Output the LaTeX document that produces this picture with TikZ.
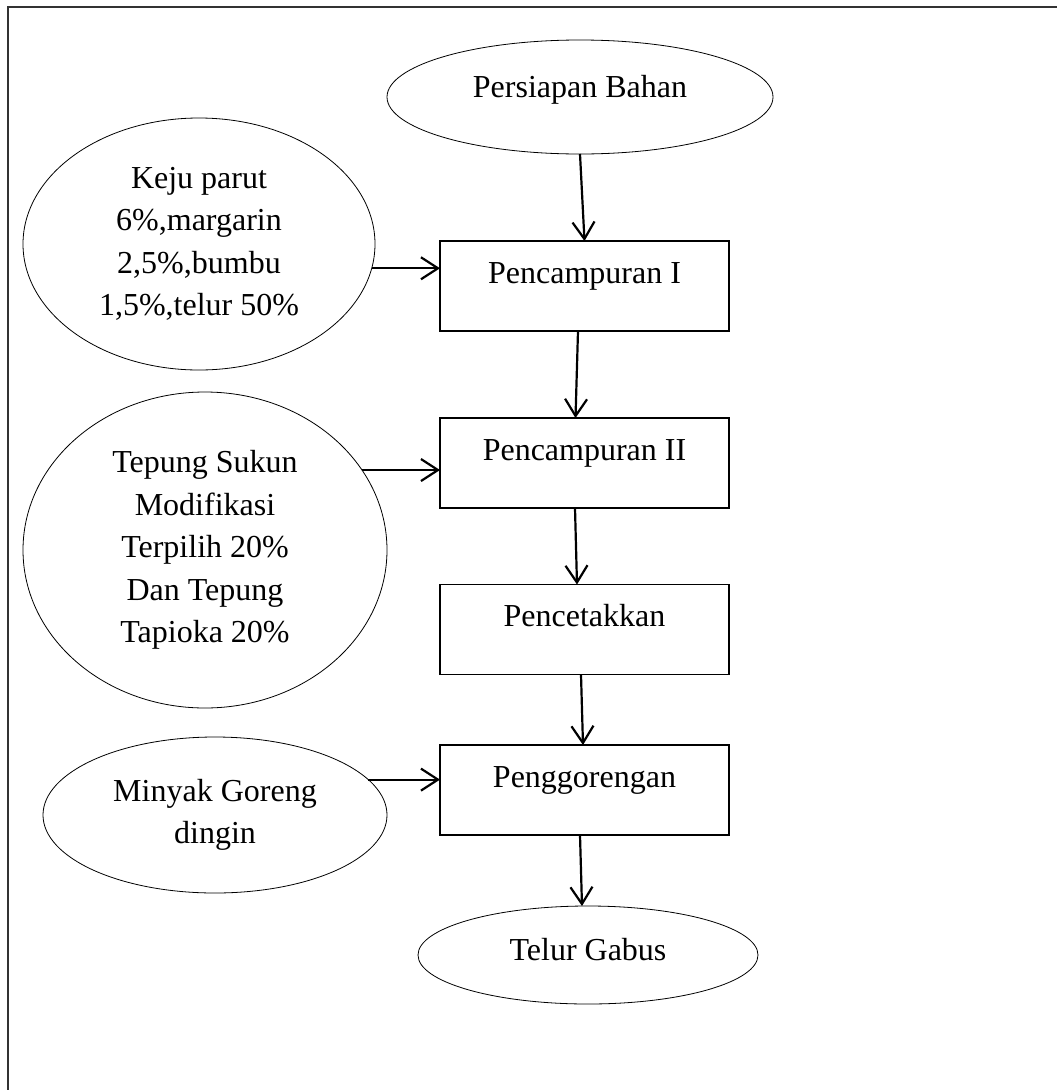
\documentclass[tikz,border=0pt]{standalone}
\usepackage{fontspec}
\setmainfont{Liberation Serif}
\usetikzlibrary{shapes.geometric,arrows.meta}
\begin{document}
\begin{tikzpicture}[x=1pt,y=-1pt,
  every node/.style={font=\fontsize{32}{42.5}\selectfont, inner sep=0pt, outer sep=0pt},
  oval/.style={ellipse, draw, line width=0.8pt, align=center},
  procbox/.style={rectangle, draw, line width=1.2pt, minimum width=289pt,
    minimum height=90pt, text height=22pt, text depth=28pt},
  flow/.style={line width=2.2pt, -{Straight Barb[length=17pt,width=22pt,line width=2.2pt]}}
]
\useasboundingbox (0,0) rectangle (1057,1090);

% page frame (top and left edges)
\draw[line width=1.6pt, black!80] (8,1090) -- (8,7) -- (1057,7);

% process steps
\node[procbox] (campur1) at (584.5,286)   {Pencampuran I};
\node[procbox] (campur2) at (584.5,463)   {Pencampuran II};
\node[procbox] (cetak)   at (584.5,629.5) {Pencetakkan};
\node[procbox] (goreng)  at (584.5,790)   {Penggorengan};

% start, inputs and product
\node[oval, minimum width=386pt, minimum height=114pt, text height=20pt, text depth=20pt]
  (prep) at (580,97) {Persiapan Bahan};
\node[oval, minimum width=352pt, minimum height=252pt]
  (keju) at (199,244) {Keju parut\\6\%,margarin\\2,5\%,bumbu\\1,5\%,telur 50\%};
\node[oval, minimum width=364pt, minimum height=316pt]
  (tepung) at (205,550) {Tepung Sukun\\Modifikasi\\Terpilih 20\%\\Dan Tepung\\Tapioka 20\%};
\node[oval, minimum width=344pt, minimum height=156pt]
  (minyak) at (215,815) {Minyak Goreng\\dingin};
\node[oval, minimum width=340pt, minimum height=98pt, text height=22pt, text depth=11pt]
  (telur) at (588,955) {Telur Gabus};

% main flow
\draw[flow] (prep.south) -- (campur1.north);
\draw[flow] ([xshift=-6.5pt]campur1.south) -- ([xshift=-9pt]campur2.north);
\draw[flow] ([xshift=-9.5pt]campur2.south) -- ([xshift=-7.5pt]cetak.north);
\draw[flow] ([xshift=-3.5pt]cetak.south) -- ([xshift=-1.5pt]goreng.north);
\draw[flow] ([xshift=-4.5pt]goreng.south) -- ([xshift=-6pt]telur.north);

% ingredient inputs
\draw[flow] (keju.-8.6) -- (keju.-8.6 -| campur1.west);
\draw[flow] (tepung.27.7) -- (tepung.27.7 -| campur2.west);
\draw[flow] (minyak.13.7) -- (minyak.13.7 -| goreng.west);
\end{tikzpicture}
\end{document}
